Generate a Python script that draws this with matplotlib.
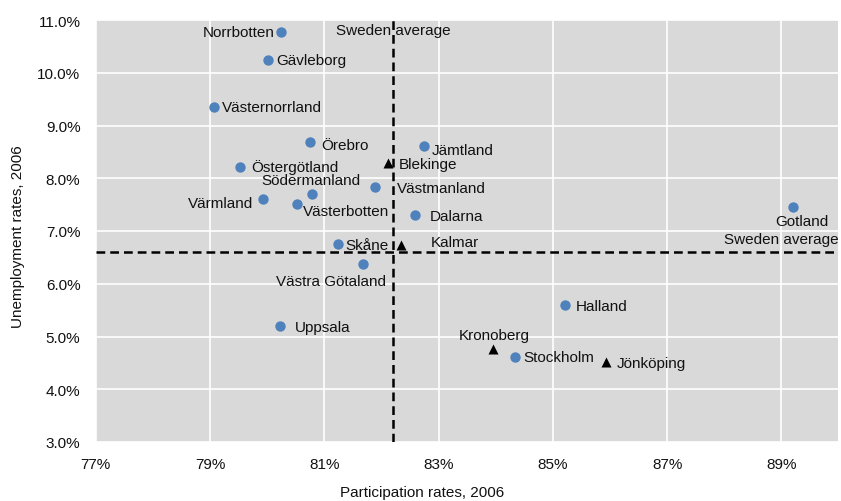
import matplotlib
matplotlib.use("Agg")
import matplotlib.pyplot as plt
from matplotlib.ticker import FuncFormatter

plt.rcParams['font.family'] = ['Liberation Sans', 'DejaVu Sans']

# ---- data ----
circle_regions = ["Norrbotten", "Gävleborg", "Västernorrland", "Örebro", "Östergötland",
                  "Södermanland", "Värmland", "Västerbotten", "Västmanland", "Jämtland",
                  "Dalarna", "Gotland", "Skåne", "Västra Götaland", "Uppsala", "Halland",
                  "Stockholm"]
circle_participation = [80.25, 80.01, 79.07, 80.75, 79.52, 80.78, 79.92, 80.52, 81.88, 82.75,
                        82.59, 89.20, 81.24, 81.68, 80.22, 85.22, 84.33]
circle_unemployment = [10.77, 10.25, 9.35, 8.68, 8.21, 7.70, 7.61, 7.51, 7.83, 8.62,
                       7.30, 7.46, 6.75, 6.37, 5.20, 5.59, 4.62]

triangle_regions = ["Blekinge", "Kalmar", "Kronoberg", "Jönköping"]
triangle_participation = [82.12, 82.35, 83.95, 85.93]
triangle_unemployment = [8.28, 6.73, 4.76, 4.51]

sweden_avg_participation = 82.2
sweden_avg_unemployment = 6.6

x_ticks = [77, 79, 81, 83, 85, 87, 89]
y_ticks = [3.0, 4.0, 5.0, 6.0, 7.0, 8.0, 9.0, 10.0, 11.0]

# ---- label placement (pixel offsets, alignment) ----
label_style = {
    "Norrbotten": (-7, 0, 'right'),
    "Gävleborg": (9, 0, 'left'),
    "Västernorrland": (8, 0, 'left'),
    "Örebro": (11, -3, 'left'),
    "Östergötland": (12, 1, 'left'),
    "Södermanland": (-1, 14, 'center'),
    "Värmland": (-9, -4, 'right'),
    "Västerbotten": (6, -7, 'left'),
    "Västmanland": (22, -1, 'left'),
    "Jämtland": (7, -4, 'left'),
    "Dalarna": (15, -1, 'left'),
    "Gotland": (9, -14, 'center'),
    "Skåne": (7, -1, 'left'),
    "Västra Götaland": (-32, -17, 'center'),
    "Uppsala": (15, -1, 'left'),
    "Halland": (10, -1, 'left'),
    "Stockholm": (9, 0, 'left'),
    "Blekinge": (11, -1, 'left'),
    "Kalmar": (29, 3, 'left'),
    "Kronoberg": (1, 14, 'center'),
    "Jönköping": (11, -1, 'left'),
}

FS = 11
TXT = '#111111'
fig = plt.figure(figsize=(8.41, 5.02), dpi=100)
ax = fig.add_axes([95.7 / 841, 1 - 443 / 502, (838.5 - 95.7) / 841, 422 / 502])
ax.set_facecolor('#D9D9D9')
for s in ax.spines.values():
    s.set_visible(False)

ax.set_xlim(77, 90)
ax.set_ylim(3, 11)
ax.xaxis.set_major_locator(plt.FixedLocator(x_ticks))
ax.yaxis.set_major_locator(plt.FixedLocator(y_ticks))
ax.xaxis.set_major_formatter(FuncFormatter(lambda v, p: f"{v:.0f}%"))
ax.yaxis.set_major_formatter(FuncFormatter(lambda v, p: f"{v:.1f}%"))
ax.grid(True, color='white', linewidth=1.2)
ax.set_axisbelow(True)
ax.tick_params(length=0, labelsize=FS, colors=TXT, pad=11)
ax.tick_params(axis='y', pad=11)

ax.axvline(sweden_avg_participation, color='black', linestyle=(0, (3.5, 2)), linewidth=1.8, zorder=2)
ax.axhline(sweden_avg_unemployment, color='black', linestyle=(0, (3.5, 2)), linewidth=1.8, zorder=2)

ax.scatter(circle_participation, circle_unemployment, s=56, color='#4F81BD', zorder=3,
           linewidths=0)
ax.scatter(triangle_participation, triangle_unemployment, s=52, marker='^', color='black',
           zorder=3, linewidths=0)

for names, xs, ys in [(circle_regions, circle_participation, circle_unemployment),
                      (triangle_regions, triangle_participation, triangle_unemployment)]:
    for n, x, y in zip(names, xs, ys):
        dx, dy, ha = label_style[n]
        ax.annotate(n, (x, y), xytext=(dx, dy), textcoords='offset pixels',
                    ha=ha, va='center', fontsize=FS, color=TXT, zorder=4)

ax.annotate("Sweden average", (sweden_avg_participation, 11), xytext=(0, -10),
            textcoords='offset pixels', ha='center', va='center', fontsize=FS,
            color=TXT, zorder=1.5)
ax.annotate("Sweden average", (90, sweden_avg_unemployment), xytext=(0, 13),
            textcoords='offset pixels', ha='right', va='center', fontsize=FS,
            color=TXT, zorder=4)

fig.text(18 / 841, 1 - 237 / 502, "Unemployment rates, 2006", rotation=90,
         ha='center', va='center', fontsize=FS, color=TXT)
fig.text(422 / 841, 1 - 493 / 502, "Participation rates, 2006",
         ha='center', va='center', fontsize=FS, color=TXT)

fig.savefig("out.png", dpi=100)
